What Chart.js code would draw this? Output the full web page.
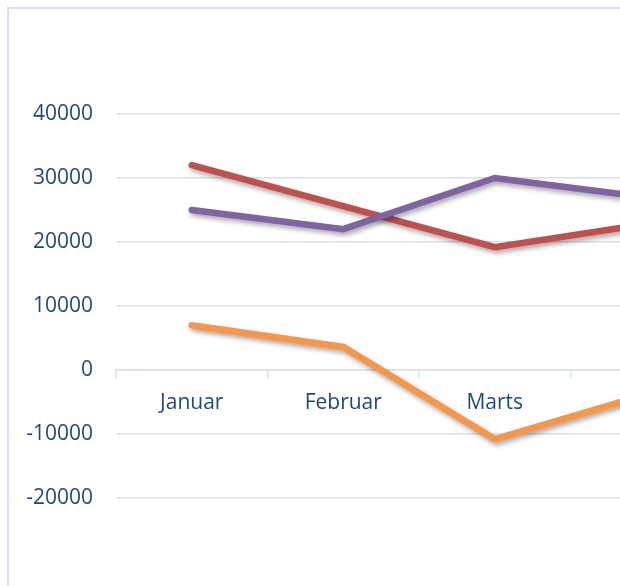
<!DOCTYPE html>
<html>
<head>
<meta charset="utf-8">
<script src="https://cdn.jsdelivr.net/npm/chart.js@4.4.1/dist/chart.umd.min.js"></script>
<style>
    html, body {
        margin: 0;
        padding: 0;
        width: 620px;
        height: 586px;
        overflow: hidden;
        background: #ffffff;
    }
    .frame {
        position: absolute;
        left: 7px;
        top: 7px;
        width: 800px;
        height: 700px;
        border-left: 2px solid #d3e1f3;
        border-top: 2px solid #d3e1f3;
    }
    #lineChart {
        position: absolute;
        left: 0;
        top: 0;
    }
</style>
</head>
<body>
<div class="frame"></div>
<canvas id="lineChart" width="760" height="586"></canvas>
<script>
// Chart data
const months = ['Januar', 'Februar', 'Marts', 'April'];
const redSeries = [32000, 25600, 19200, 22800];
const purpleSeries = [25000, 22000, 30000, 27000];
const orangeSeries = [7000, 3600, -10800, -3800];
const yTicks = [-20000, -10000, 0, 10000, 20000, 30000, 40000];

const textColor = '#1f497d';
const gridColor = '#d3e1f3';

// Soft drop shadow under the lines
const lineShadow = {
    id: 'lineShadow',
    beforeDatasetsDraw(chart) {
        const ctx = chart.ctx;
        ctx.save();
        ctx.shadowColor = 'rgba(0, 0, 0, 0.35)';
        ctx.shadowBlur = 5;
        ctx.shadowOffsetX = 2;
        ctx.shadowOffsetY = 3;
    },
    afterDatasetsDraw(chart) {
        chart.ctx.restore();
    }
};

document.addEventListener('DOMContentLoaded', function() {
    const ctx = document.getElementById('lineChart');

    function makeLine(label, data, color) {
        return {
            label: label,
            data: data,
            borderColor: color,
            backgroundColor: color,
            borderWidth: 6.5,
            borderCapStyle: 'round',
            borderJoinStyle: 'miter',
            pointRadius: 0,
            pointHoverRadius: 0,
            fill: false,
            tension: 0
        };
    }

    new Chart(ctx, {
        type: 'line',
        data: {
            labels: months,
            datasets: [
                makeLine('Serie 3', purpleSeries, '#8064a2'),
                makeLine('Serie 1', redSeries, '#c0504d'),
                makeLine('Serie 2', orangeSeries, '#f79646')
            ]
        },
        options: {
            responsive: false,
            animation: false,
            layout: {
                padding: { top: 114, bottom: 88, left: 0, right: 38 }
            },
            plugins: {
                legend: { display: false },
                tooltip: { enabled: false }
            },
            scales: {
                x: {
                    position: { y: 0 },
                    offset: true,
                    grid: {
                        offset: true,
                        drawOnChartArea: false,
                        drawTicks: true,
                        tickLength: 8,
                        color: gridColor,
                        lineWidth: 1.5
                    },
                    border: {
                        display: true,
                        color: gridColor,
                        width: 1.5
                    },
                    ticks: {
                        color: textColor,
                        padding: 12,
                        maxRotation: 0,
                        font: { family: 'Open Sans', size: 21 }
                    }
                },
                y: {
                    min: -20000,
                    max: 40000,
                    afterFit: function(scale) {
                        scale.width = 116;
                    },
                    afterBuildTicks: function(scale) {
                        scale.ticks = yTicks.map(v => ({ value: v }));
                    },
                    grid: {
                        drawTicks: false,
                        color: gridColor,
                        lineWidth: 1.5
                    },
                    border: { display: false },
                    ticks: {
                        color: textColor,
                        padding: 23,
                        font: { family: 'Open Sans', size: 21 },
                        callback: function(value) {
                            return String(value);
                        }
                    }
                }
            }
        },
        plugins: [lineShadow]
    });
});
</script>
</body>
</html>
